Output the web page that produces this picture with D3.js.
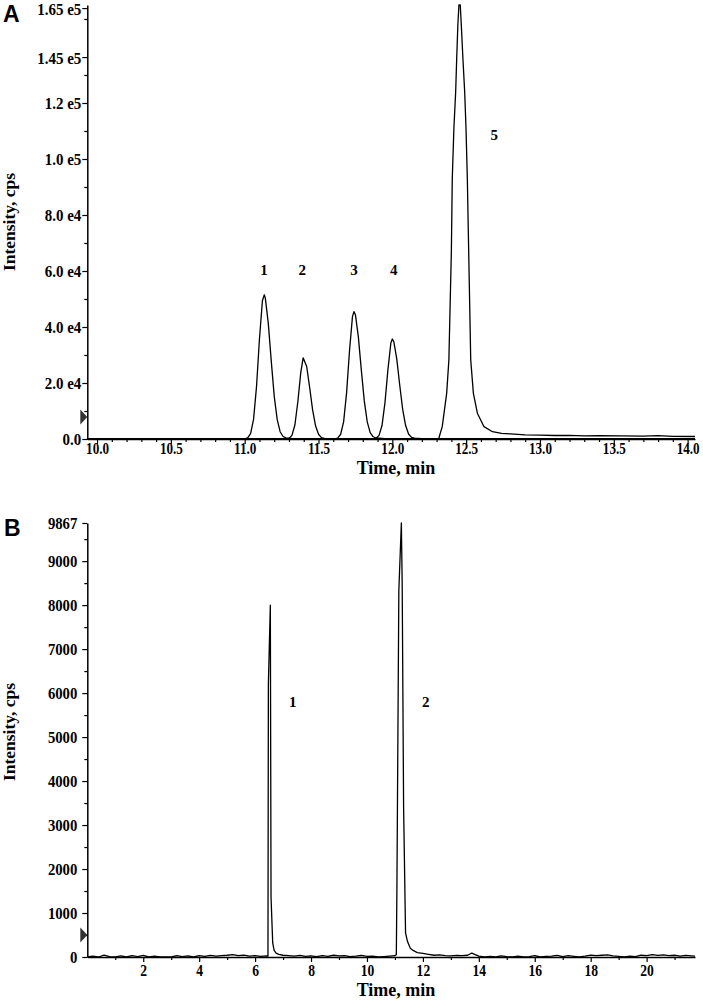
<!DOCTYPE html>
<html><head><meta charset="utf-8">
<script src="https://cdn.jsdelivr.net/npm/d3@7"></script>
<style>
body{margin:0;background:#fff}
svg{display:block}
.tl{font-family:"Liberation Serif","Times New Roman",serif;font-weight:bold;fill:#000}
.pl{font-family:"Liberation Sans",Arial,sans-serif;font-weight:bold;fill:#000}
</style></head><body>
<svg id="c" width="703" height="1005"></svg>
<script>
// ---------- Panel A data: overlaid extracted-ion chromatograms (time min, intensity cps)
const peakA1=[[9.934,0],[10.98,0],[11.00,50],[11.02,370],[11.04,1900],[11.06,7000],[11.08,18600],[11.10,35700],[11.12,49400],[11.133,51500],[11.14,50200],[11.16,41200],[11.18,27800],[11.20,15300],[11.22,7000],[11.24,2600],[11.26,900],[11.28,400],[11.32,200],[11.40,100],[11.50,50],[11.60,0],[14.05,0]];
const peakA2=[[9.934,0],[11.26,0],[11.28,30],[11.30,220],[11.32,1280],[11.34,5000],[11.36,13300],[11.38,23800],[11.396,29000],[11.42,25900],[11.44,18400],[11.46,10400],[11.48,4700],[11.50,1700],[11.52,500],[11.54,250],[11.60,120],[11.70,50],[11.80,0],[14.05,0]];
const peakA3=[[9.934,0],[11.59,0],[11.61,45],[11.63,330],[11.65,1700],[11.67,6100],[11.69,16400],[11.71,31500],[11.73,43700],[11.74,45500],[11.75,44400],[11.77,36400],[11.79,24600],[11.81,13600],[11.83,6100],[11.85,2300],[11.87,800],[11.89,350],[11.95,150],[12.05,60],[12.15,0],[14.05,0]];
const peakA4=[[9.934,0],[11.85,0],[11.87,36],[11.89,260],[11.91,1300],[11.93,4800],[11.95,12900],[11.97,24700],[11.99,34300],[12.00,35700],[12.01,34800],[12.03,28600],[12.05,19300],[12.07,10600],[12.09,4800],[12.11,1800],[12.13,600],[12.15,280],[12.20,120],[12.30,50],[12.40,0],[14.05,0]];
const peakA5=[[9.934,0],[12.30,0],[12.315,250],[12.338,4400],[12.368,16300],[12.383,28200],[12.400,67500],[12.406,93000],[12.417,111000],[12.429,124000],[12.436,136000],[12.444,148000],[12.451,155000],[12.460,155000],[12.467,148000],[12.478,136000],[12.490,124000],[12.499,111000],[12.508,93000],[12.517,67500],[12.531,28200],[12.549,16300],[12.576,9200],[12.621,4400],[12.678,2600],[12.74,2000],[12.80,1800],[12.90,1500],[13.00,1400],[13.10,1250],[13.20,1300],[13.30,1150],[13.40,1200],[13.55,1100],[13.70,1000],[13.80,1200],[13.90,950],[14.05,900]];
const tracesA=[peakA1,peakA2,peakA3,peakA4,peakA5];
const peakLabelsA=[["1",11.13,60500],["2",11.39,60500],["3",11.74,60500],["4",12.01,60500],["5",12.69,108500]];
const aXTicks=[10,10.5,11,11.5,12,12.5,13,13.5,14];
const aXTickLabels=["10.0","10.5","11.0","11.5","12.0","12.5","13.0","13.5","14.0"];
const aYTicks=[0,20000,40000,60000,80000,100000,120000,136400,153900];
const aYTickLabels=["0.0","2.0 e4","4.0 e4","6.0 e4","8.0 e4","1.0 e5","1.2 e5","1.45 e5","1.65 e5"];
const aYMinor=[10000,30000,50000,70000,90000,110000,130000,150000];

// ---------- Panel B data
const traceB=[[0.0,0],[0.2,20],[0.4,0],[0.6,40],[0.8,10],[1.0,0],[1.2,25],[1.4,0],[1.6,30],[1.8,10],[2.0,35],[2.2,0],[2.4,20],[2.6,0],[2.8,0],[3.0,0],[3.2,30],[3.4,10],[3.6,25],[3.8,0],[4.0,30],[4.2,15],[4.4,35],[4.6,20],[4.8,30],[5.0,40],[5.2,55],[5.4,30],[5.6,45],[5.8,20],[6.0,30],[6.2,15],[6.4,25],[6.46,20],[6.475,6200],[6.545,8000],[6.57,1360],[6.63,320],[6.68,150],[6.75,90],[6.85,60],[7.0,40],[7.2,30],[7.4,20],[7.6,35],[7.8,15],[8.0,25],[8.2,10],[8.4,30],[8.6,15],[8.8,40],[9.0,25],[9.2,30],[9.4,10],[9.6,20],[9.8,35],[10.0,15],[10.2,20],[10.4,0],[10.6,10],[10.8,20],[11.0,30],[11.05,50],[11.07,1480],[11.14,8340],[11.23,9867],[11.26,8455],[11.31,3420],[11.38,550],[11.45,350],[11.55,200],[11.65,150],[11.8,100],[12.0,80],[12.2,60],[12.4,40],[12.6,50],[12.8,30],[13.0,25],[13.2,35],[13.4,30],[13.6,40],[13.75,90],[13.85,60],[14.0,20],[14.2,0],[14.4,15],[14.6,0],[14.8,25],[15.0,10],[15.2,0],[15.4,20],[15.6,0],[15.8,10],[16.0,30],[16.2,0],[16.4,15],[16.6,20],[16.8,35],[17.0,10],[17.2,30],[17.4,15],[17.6,0],[17.8,20],[18.0,45],[18.2,30],[18.4,40],[18.6,50],[18.8,25],[19.0,15],[19.2,0],[19.4,20],[19.6,10],[19.8,40],[20.0,30],[20.2,55],[20.4,35],[20.6,50],[20.8,30],[21.0,40],[21.2,20],[21.4,35],[21.6,25],[21.73,20]];
const peakLabelsB=[["1",7.35,5800],["2",12.10,5800]];
const bXTicks=[2,4,6,8,10,12,14,16,18,20];
const bXTickLabels=["2","4","6","8","10","12","14","16","18","20"];
const bXMinor=[1,3,5,7,9,11,13,15,17,19,21];
const bYTicks=[0,1000,2000,3000,4000,5000,6000,7000,8000,9000,9867];
const bYTickLabels=["0","1000","2000","3000","4000","5000","6000","7000","8000","9000","9867"];
const bYMinor=[500,1500,2500,3500,4500,5500,6500,7500,8500,9500];

const svg=d3.select("#c");

function drawPanel(o){
  const g=svg.append("g");
  const x=d3.scaleLinear().domain(o.xDomain).range(o.xRange);
  const y=d3.scaleLinear().domain(o.yDomain).range(o.yRange);
  const y0=o.yRange[0], x0=o.xRange[0];
  // minor ticks
  g.append("g").attr("transform",`translate(0,${y0})`)
    .call(d3.axisBottom(x).tickValues(o.xMinor).tickSize(3).tickFormat("").tickSizeOuter(0))
    .call(s=>s.select(".domain").remove());
  g.append("g").attr("transform",`translate(${x0},0)`)
    .call(d3.axisLeft(y).tickValues(o.yMinor).tickSize(3).tickFormat("").tickSizeOuter(0))
    .call(s=>s.select(".domain").remove());
  // major x
  const gx=g.append("g").attr("transform",`translate(0,${y0})`)
    .call(d3.axisBottom(x).tickValues(o.xTicks).tickSize(5).tickSizeOuter(0).tickFormat((d,i)=>o.xLabels[i]));
  gx.selectAll(".tick text").attr("class","tl").attr("y",0).attr("dy",0)
    .attr("font-size",o.xFont).attr("transform",`translate(0,${o.xBase}) scale(${o.xsx},1)`);
  // major y
  const gy=g.append("g").attr("transform",`translate(${x0},0)`)
    .call(d3.axisLeft(y).tickValues(o.yTicks).tickSize(5).tickSizeOuter(0).tickFormat((d,i)=>o.yLabels[i]));
  gy.selectAll(".tick text").attr("class","tl").attr("x",0).attr("dy","0.35em")
    .attr("font-size",o.yFont).attr("transform",`translate(${-o.yOff},0) scale(${o.ysx},1)`);
  g.selectAll(".domain").attr("stroke","#000").attr("stroke-width",1.5);
  g.selectAll(".tick line").attr("stroke","#000").attr("stroke-width",1.2);
  // traces
  const line=d3.line().x(d=>x(d[0])).y(d=>y(d[1]));
  o.traces.forEach(t=>{
    g.append("path").datum(t).attr("d",line).attr("fill","none")
      .attr("stroke","#000").attr("stroke-width",1.3).attr("stroke-linejoin","round");
  });
  // peak labels
  o.peakLabels.forEach(p=>{
    g.append("text").attr("class","tl").attr("x",x(p[1])).attr("y",y(p[2]))
      .attr("text-anchor","middle").attr("font-size",15).attr("dy","0.35em").text(p[0]);
  });
  // marker triangle
  g.append("path").attr("d",`M${x0-7},${y(o.marker)-7.5}L${x0},${y(o.marker)}L${x0-7},${y(o.marker)+7.5}Z`)
    .attr("fill","#333");
  // titles
  g.append("text").attr("class","tl").attr("font-size",18).attr("text-anchor","middle")
    .attr("x",396).attr("y",o.xTitleY).text("Time, min");
  g.append("text").attr("class","tl").attr("font-size",17.5).attr("text-anchor","middle")
    .attr("transform",`translate(15,${o.yTitleY}) rotate(-90)`).text("Intensity, cps");
  g.append("text").attr("class","pl").attr("font-size",23).attr("x",o.letterX).attr("y",o.letterY).text(o.letter);
}

drawPanel({
  xDomain:[9.934,14.05], xRange:[87.3,695], yDomain:[0,155000], yRange:[439,5],
  xTicks:aXTicks, xLabels:aXTickLabels, xMinor:d3.range(100,141).map(v=>v/10).filter(v=>Math.abs(v*2-Math.round(v*2))>1e-6),
  yTicks:aYTicks, yLabels:aYTickLabels, yMinor:aYMinor,
  xFont:16, xsx:0.82, xBase:15, yFont:17, ysx:0.88, yOff:6,
  traces:tracesA, peakLabels:peakLabelsA, marker:7900,
  xTitleY:474, yTitleY:222, letter:"A", letterX:3, letterY:22
});
drawPanel({
  xDomain:[0,21.73], xRange:[87.3,695], yDomain:[0,9867], yRange:[957,523],
  xTicks:bXTicks, xLabels:bXTickLabels, xMinor:bXMinor,
  yTicks:bYTicks, yLabels:bYTickLabels, yMinor:bYMinor,
  xFont:17, xsx:0.8, xBase:19, yFont:16, ysx:0.92, yOff:10,
  traces:[traceB], peakLabels:peakLabelsB, marker:500,
  xTitleY:996, yTitleY:732, letter:"B", letterX:4, letterY:536
});
</script></body></html>
